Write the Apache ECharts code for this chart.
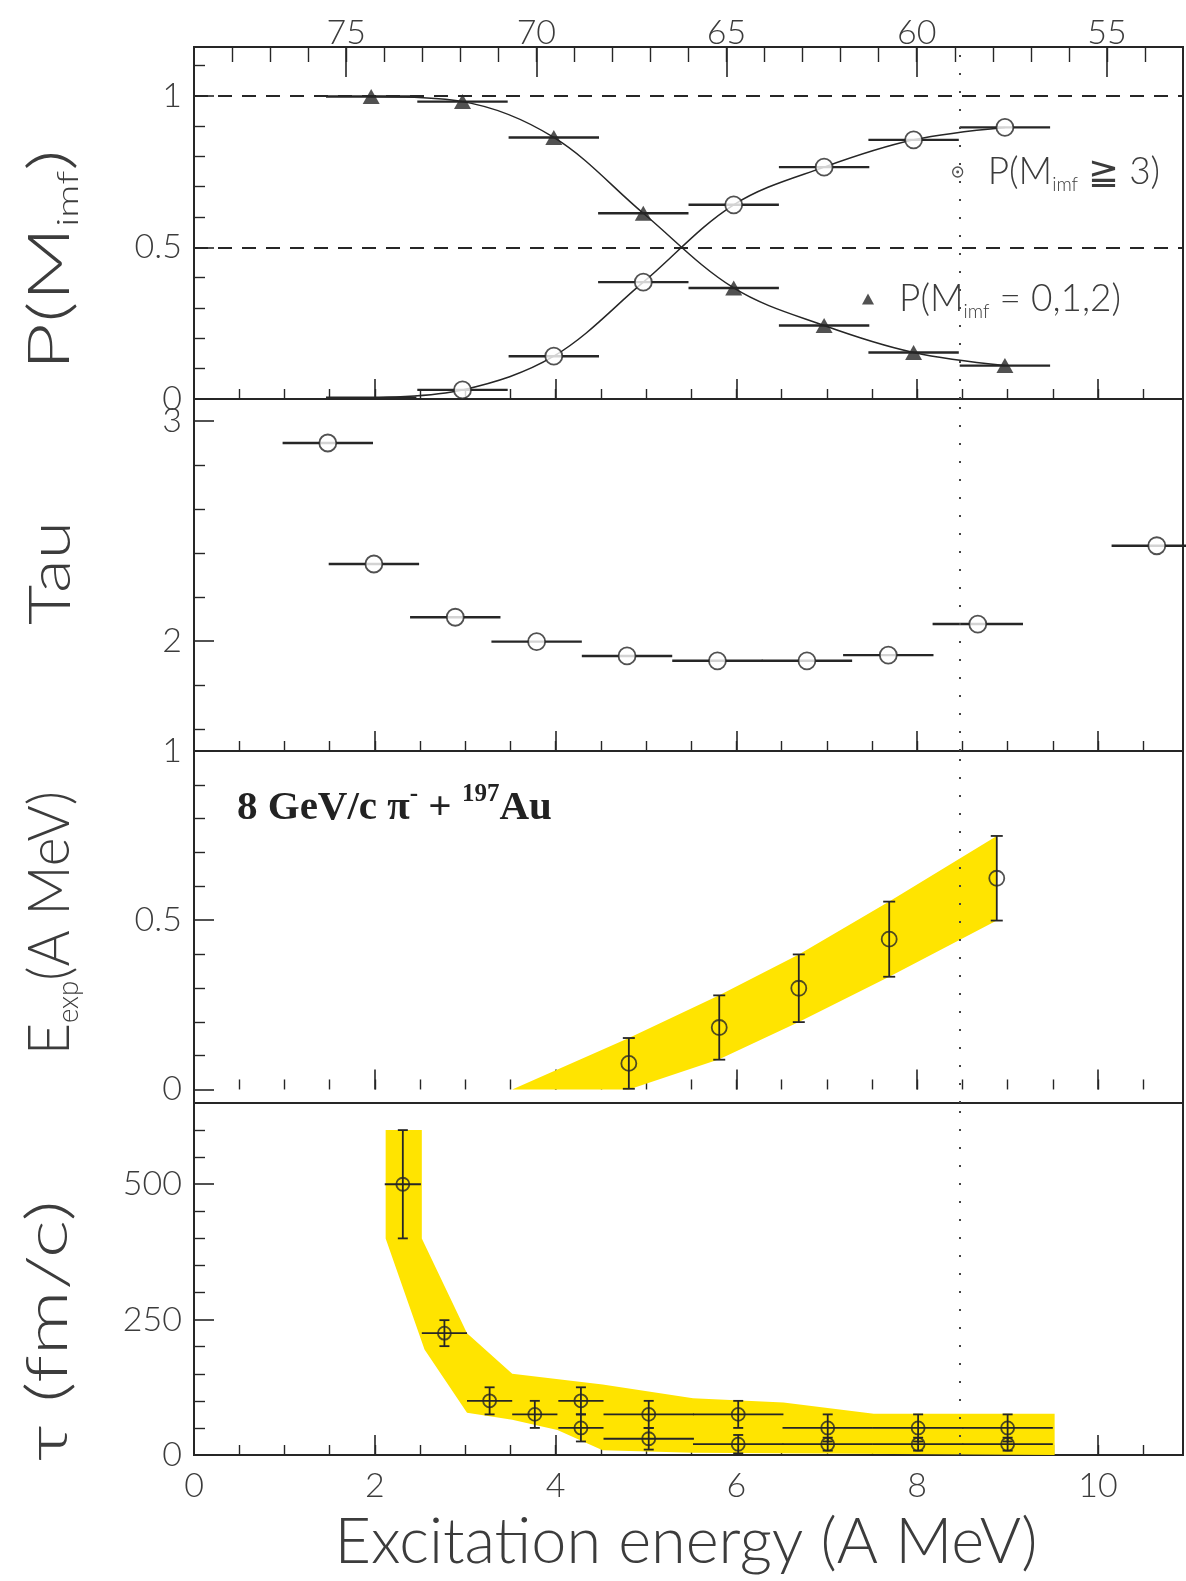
<!DOCTYPE html>
<html>
<head>
<meta charset="utf-8">
<script src="https://cdn.jsdelivr.net/npm/echarts@6/dist/echarts.min.js"></script>
<style>
  html, body { margin: 0; padding: 0; background: #fff; }
  #chart { width: 1186px; height: 1581px; }
</style>
</head>
<body>
<div id="chart"></div>
<script>
// ---- axis ranges and tick positions ----
const E_MIN = 0, E_MAX = 10.94;                 // excitation energy (A MeV)
const E_MAJOR = [0, 2, 4, 6, 8, 10];
const E_MINOR = [0.5, 1, 1.5, 2, 2.5, 3, 3.5, 4, 4.5, 5, 5.5, 6, 6.5, 7, 7.5, 8, 8.5, 9, 9.5, 10, 10.5];
const MASS_MIN = 53, MASS_MAX = 79;             // top scale
const MASS_MAJOR = [55, 60, 65, 70, 75];
const MASS_MINOR = [54, 55, 56, 57, 58, 59, 60, 61, 62, 63, 64, 65, 66, 67, 68, 69, 70, 71, 72, 73, 74, 75, 76, 77, 78];
const P_RANGE = [0, 1.16];
const P_MAJOR = [0, 0.5, 1];
const P_MINOR = [0.1, 0.2, 0.3, 0.4, 0.6, 0.7, 0.8, 0.9, 1.1];
const TAU_RANGE = [1.5, 3.1];
const TAU_MAJOR = [2, 3];
const TAU_MINOR = [1.6, 1.8, 2.2, 2.4, 2.6, 2.8];
const EEXP_RANGE = [-0.04, 1.0];
const EEXP_MAJOR = [0, 0.5, 1];
const EEXP_MINOR = [0.1, 0.2, 0.3, 0.4, 0.6, 0.7, 0.8, 0.9];
const LIFE_RANGE = [0, 650];
const LIFE_MAJOR = [0, 250, 500];
const LIFE_MINOR = [50, 100, 150, 200, 300, 350, 400, 450, 550, 600];
const DOTTED_E = 8.47;

// ---- P(M_imf) ----
const pE = [1.96, 2.97, 3.98, 4.97, 5.97, 6.97, 7.96, 8.97];
const pLow = [0.997, 0.980, 0.862, 0.612, 0.366, 0.242, 0.153, 0.110];   // M_imf = 0,1,2
const pHigh = [0.004, 0.030, 0.141, 0.385, 0.640, 0.764, 0.854, 0.895];  // M_imf >= 3
const pEErr = 0.5;

// ---- Tau ----
const tauE = [1.48, 1.99, 2.89, 3.79, 4.79, 5.79, 6.78, 7.68, 8.67, 10.65];
const tauVal = [2.90, 2.35, 2.108, 1.997, 1.932, 1.91, 1.91, 1.936, 2.077, 2.433];
const tauEErr = 0.5;

// ---- E_exp ----
const eExpE = [4.81, 5.81, 6.69, 7.69, 8.88];
const eExpVal = [0.077, 0.183, 0.299, 0.444, 0.624];
const eExpErr = [0.075, 0.095, 0.100, 0.111, 0.125];
const eBandE = [3.52, 4.81, 5.81, 6.69, 7.69, 8.88, 8.88, 7.69, 6.69, 5.81, 4.81, 3.52];
const eBandVal = [0.0, 0.152, 0.278, 0.399, 0.555, 0.749, 0.499, 0.333, 0.199, 0.089, 0.0, 0.0];

// ---- emission time tau (fm/c) ----
const lifeE = [2.31, 2.77, 3.27, 3.77, 4.28, 4.28, 5.03, 5.03, 6.02, 6.02, 7.01, 7.01, 8.01, 8.01, 9.0, 9.0];
const lifeVal = [500, 225, 100, 75, 100, 50, 75, 30, 75, 20, 50, 20, 50, 20, 50, 20];
const lifeErr = [100, 24, 25, 25, 25, 25, 25, 20, 25, 17, 25, 12, 25, 12, 25, 12];
const lifeEErr = [0.2, 0.25, 0.25, 0.25, 0.25, 0.25, 0.5, 0.5, 0.5, 0.5, 0.5, 0.5, 0.5, 0.5, 0.5, 0.5];
const lifeBandE = [2.12, 2.52, 2.52, 3.02, 3.52, 4.52, 5.52, 6.52, 7.52, 9.52, 9.52, 5.52, 4.52, 4.02, 3.52, 3.02, 2.55, 2.12];
const lifeBandVal = [600, 600, 400, 225, 150, 130, 105, 97, 76, 76, 0, 4, 9, 46, 65, 78, 195, 400];

// ---- styling ----
const INK = '#262626';
const TEXT = '#3c3c3c';
const YELLOW = '#FFE400';
const FONT = 'Lato';
const GRID_TOP = [47, 399, 751, 1103];
const GRID_H = 352;

const chart = echarts.init(document.getElementById('chart'), null, { renderer: 'canvas' });

const grids = GRID_TOP.map(t => ({
  left: 194, width: 989, top: t, height: GRID_H,
  show: true, borderColor: INK, borderWidth: 2, backgroundColor: 'transparent',
  outerBoundsMode: 'none'
}));

const tickLabel = { fontFamily: FONT, fontWeight: 300, fontSize: 34, color: TEXT };

function valueAxis(extra) {
  return Object.assign({
    type: 'value', axisLine: { show: false }, splitLine: { show: false }
  }, extra);
}

function tickPair(gridIndex, range, major, minor, majorLen, minorLen, labels, position, labelMargin) {
  const base = { gridIndex, min: range[0], max: range[1], position };
  return [
    valueAxis(Object.assign({}, base, {
      axisTick: { show: true, inside: true, length: majorLen, customValues: major, lineStyle: { color: INK, width: 1.6 } },
      axisLabel: labels ? Object.assign({ show: true, customValues: labels, margin: labelMargin }, tickLabel) : { show: false }
    })),
    valueAxis(Object.assign({}, base, {
      axisTick: { show: true, inside: true, length: minorLen, customValues: minor, lineStyle: { color: INK, width: 1.4 } },
      axisLabel: { show: false }
    }))
  ];
}

// x axes: per grid a major/minor bottom pair; the top grid also carries the mass scale
const xAxes = [].concat(
  tickPair(0, [E_MIN, E_MAX], E_MAJOR, E_MINOR, 20, 10, null, 'bottom'),
  tickPair(0, [MASS_MIN, MASS_MAX], MASS_MAJOR, MASS_MINOR, 30, 15, MASS_MAJOR, 'top', -3).map(a => Object.assign(a, { inverse: true })),
  tickPair(1, [E_MIN, E_MAX], E_MAJOR, E_MINOR, 20, 10, null, 'bottom'),
  tickPair(2, [E_MIN, E_MAX], E_MAJOR, E_MINOR, 20, 10, null, 'bottom'),
  tickPair(3, [E_MIN, E_MAX], E_MAJOR, E_MINOR, 20, 10, E_MAJOR, 'bottom', 14)
);
const X_OF_GRID = [0, 4, 6, 8];

const yAxes = [].concat(
  tickPair(0, P_RANGE, P_MAJOR, P_MINOR, 20, 11, P_MAJOR, 'left', 12),
  tickPair(1, TAU_RANGE, TAU_MAJOR, TAU_MINOR, 20, 11, TAU_MAJOR, 'left', 12),
  tickPair(2, EEXP_RANGE, EEXP_MAJOR, EEXP_MINOR, 20, 11, EEXP_MAJOR, 'left', 12),
  tickPair(3, LIFE_RANGE, LIFE_MAJOR, LIFE_MINOR, 20, 11, LIFE_MAJOR, 'left', 12)
);
const Y_OF_GRID = [0, 2, 4, 6];

// error bars: item = [x, y, xErr, yErr]
function errorBars(capHalf, width) {
  return function (params, api) {
    const x = api.value(0), y = api.value(1), dx = api.value(2), dy = api.value(3);
    const style = { stroke: INK, lineWidth: width, fill: null };
    const children = [];
    if (dx > 0) {
      const a = api.coord([x - dx, y]), b = api.coord([x + dx, y]);
      children.push({ type: 'line', shape: { x1: a[0], y1: a[1], x2: b[0], y2: b[1] }, style });
    }
    if (dy > 0) {
      const a = api.coord([x, y - dy]), b = api.coord([x, y + dy]);
      children.push({ type: 'line', shape: { x1: a[0], y1: a[1], x2: b[0], y2: b[1] }, style });
      children.push({ type: 'line', shape: { x1: a[0] - capHalf, y1: a[1], x2: a[0] + capHalf, y2: a[1] }, style });
      children.push({ type: 'line', shape: { x1: b[0] - capHalf, y1: b[1], x2: b[0] + capHalf, y2: b[1] }, style });
    }
    return { type: 'group', children };
  };
}

// shaded band drawn as one polygon through the data vertices
function bandPolygon(params, api) {
  if (params.dataIndex !== 0) return null;
  const pts = [];
  for (let i = 0; i < params.dataInsideLength; i++) pts.push(api.coord([api.value(0, i), api.value(1, i)]));
  return { type: 'polygon', shape: { points: pts }, style: { fill: YELLOW } };
}

function zip(xs, ys) { return xs.map((x, i) => [x, ys[i]]); }

function dottedLine(g) {
  return {
    type: 'line', xAxisIndex: X_OF_GRID[g], yAxisIndex: Y_OF_GRID[g], data: [], z: 5,
    markLine: {
      silent: true, symbol: 'none', label: { show: false },
      lineStyle: { color: '#444', width: 2, type: [2, 16] },
      data: [{ xAxis: DOTTED_E }]
    }
  };
}

const series = [
  // P(M_imf) curves
  {
    type: 'line', name: 'curveLow', xAxisIndex: 0, yAxisIndex: 0, data: zip(pE, pLow),
    smooth: 0.35, showSymbol: false, lineStyle: { color: INK, width: 1.5 }, z: 3,
    markLine: {
      silent: true, symbol: 'none', label: { show: false },
      lineStyle: { color: INK, width: 2, type: [14, 10] },
      data: [{ yAxis: 1 }, { yAxis: 0.5 }]
    }
  },
  {
    type: 'line', name: 'curveHigh', xAxisIndex: 0, yAxisIndex: 0, data: zip(pE, pHigh),
    smooth: 0.35, showSymbol: false, lineStyle: { color: INK, width: 1.5 }, z: 3
  },
  {
    type: 'custom', xAxisIndex: 0, yAxisIndex: 0, renderItem: errorBars(0, 2.4), z: 4,
    data: pE.map((e, i) => [e, pLow[i], pEErr, 0]).concat(pE.map((e, i) => [e, pHigh[i], pEErr, 0])),
    encode: { x: 0, y: 1 }
  },
  {
    type: 'scatter', name: 'P(M_imf = 0,1,2)', xAxisIndex: 0, yAxisIndex: 0, data: zip(pE, pLow),
    symbol: 'triangle', symbolSize: [17, 15], itemStyle: { color: INK }, z: 6
  },
  {
    // the lowest point sits on the axis and is left unmarked
    type: 'scatter', name: 'P(M_imf ≥ 3)', xAxisIndex: 0, yAxisIndex: 0, data: zip(pE, pHigh).slice(1),
    symbol: 'circle', symbolSize: 17, itemStyle: { color: '#fff', borderColor: INK, borderWidth: 1.8 }, z: 6
  },
  dottedLine(0),

  // Tau
  {
    type: 'custom', xAxisIndex: 4, yAxisIndex: 2, renderItem: errorBars(0, 2.4), z: 4,
    data: tauE.map((e, i) => [e, tauVal[i], tauEErr, 0]), encode: { x: 0, y: 1 }
  },
  {
    type: 'scatter', xAxisIndex: 4, yAxisIndex: 2, data: zip(tauE, tauVal),
    symbol: 'circle', symbolSize: 17, itemStyle: { color: '#fff', borderColor: INK, borderWidth: 1.8 }, z: 6
  },
  dottedLine(1),

  // E_exp
  {
    type: 'custom', xAxisIndex: 6, yAxisIndex: 4, renderItem: bandPolygon, z: 1,
    data: zip(eBandE, eBandVal), encode: { x: 0, y: 1 }
  },
  {
    type: 'custom', xAxisIndex: 6, yAxisIndex: 4, renderItem: errorBars(6, 1.8), z: 4,
    data: eExpE.map((e, i) => [e, eExpVal[i], 0, eExpErr[i]]), encode: { x: 0, y: 1 }
  },
  {
    type: 'scatter', xAxisIndex: 6, yAxisIndex: 4, data: zip(eExpE, eExpVal),
    symbol: 'circle', symbolSize: 15, itemStyle: { color: 'rgba(255,255,255,0)', borderColor: INK, borderWidth: 1.8 }, z: 6
  },
  dottedLine(2),

  // tau (fm/c)
  {
    type: 'custom', xAxisIndex: 8, yAxisIndex: 6, renderItem: bandPolygon, z: 1,
    data: zip(lifeBandE, lifeBandVal), encode: { x: 0, y: 1 }
  },
  {
    type: 'custom', xAxisIndex: 8, yAxisIndex: 6, renderItem: errorBars(5, 1.8), z: 4,
    data: lifeE.map((e, i) => [e, lifeVal[i], lifeEErr[i], lifeErr[i]]), encode: { x: 0, y: 1 }
  },
  {
    type: 'scatter', xAxisIndex: 8, yAxisIndex: 6, data: zip(lifeE, lifeVal),
    symbol: 'circle', symbolSize: 13, itemStyle: { color: 'rgba(255,255,255,0)', borderColor: INK, borderWidth: 1.8 }, z: 6
  },
  dottedLine(3)
];

const legendText = {
  fontFamily: FONT, fontWeight: 300, fontSize: 37, color: TEXT, lineHeight: 44, padding: [0, 0, 0, 20],
  rich: { s: { fontFamily: FONT, fontWeight: 300, fontSize: 19, color: TEXT, verticalAlign: 'bottom', lineHeight: 24 } }
};

const titleRich = { s: { fontFamily: FONT, fontWeight: 300, fontSize: 29, fill: TEXT, verticalAlign: 'bottom', lineHeight: 32 } };
// rotated axis title, stretched along its reading direction
function axisTitle(x, y, text, stretch) {
  return {
    type: 'text', x, y, rotation: Math.PI / 2, scaleX: stretch, silent: true,
    style: { text, fill: TEXT, fontFamily: FONT, fontWeight: 300, fontSize: 58, lineHeight: 66,
             align: 'center', verticalAlign: 'middle', rich: titleRich }
  };
}

chart.setOption({
  animation: false,
  backgroundColor: '#ffffff',
  grid: grids,
  xAxis: xAxes,
  yAxis: yAxes,
  series,
  legend: [
    {
      data: ['P(M_imf ≥ 3)'], left: 952, top: 150, padding: 0, selectedMode: false,
      itemWidth: 10, itemHeight: 10,
      icon: 'path://M0,-10A10,10,0,1,1,0,10A10,10,0,1,1,0,-10ZM0,-1.6A1.6,1.6,0,1,1,0,1.6A1.6,1.6,0,1,1,0,-1.6Z',
      itemStyle: { color: 'rgba(255,255,255,0)', borderColor: INK, borderWidth: 1.3 },
      formatter: () => 'P(M{s|imf} ≧ 3)', textStyle: legendText
    },
    {
      data: ['P(M_imf = 0,1,2)'], left: 862, top: 277, padding: 0, selectedMode: false,
      itemWidth: 12, itemHeight: 11,
      formatter: () => 'P(M{s|imf} = 0,1,2)', textStyle: legendText
    }
  ],
  graphic: [
    axisTitle(50, 260, 'P(M{s|imf})', 1.42),
    axisTitle(51, 573, 'Tau', 1.2),
    axisTitle(50, 923, 'E{s|exp}(A MeV)', 0.95),
    axisTitle(48, 1331, 'τ (fm/c)', 1.4),
    {
      type: 'text', x: 686, y: 1543, silent: true,
      style: { text: 'Excitation energy (A MeV)', fill: TEXT, fontFamily: FONT, fontWeight: 300, fontSize: 63,
               align: 'center', verticalAlign: 'middle' }
    },
    {
      type: 'text', x: 237, y: 808, silent: true,
      style: {
        text: '8 GeV/c π{sup|-} + {sup|197}Au', fill: '#222', fontFamily: 'Liberation Serif', fontWeight: 'bold',
        fontSize: 41, lineHeight: 52, align: 'left', verticalAlign: 'middle',
        rich: { sup: { fontFamily: 'Liberation Serif', fontWeight: 'bold', fontSize: 25, fill: '#222', verticalAlign: 'top', lineHeight: 30 } }
      }
    }
  ]
});
</script>
</body>
</html>
